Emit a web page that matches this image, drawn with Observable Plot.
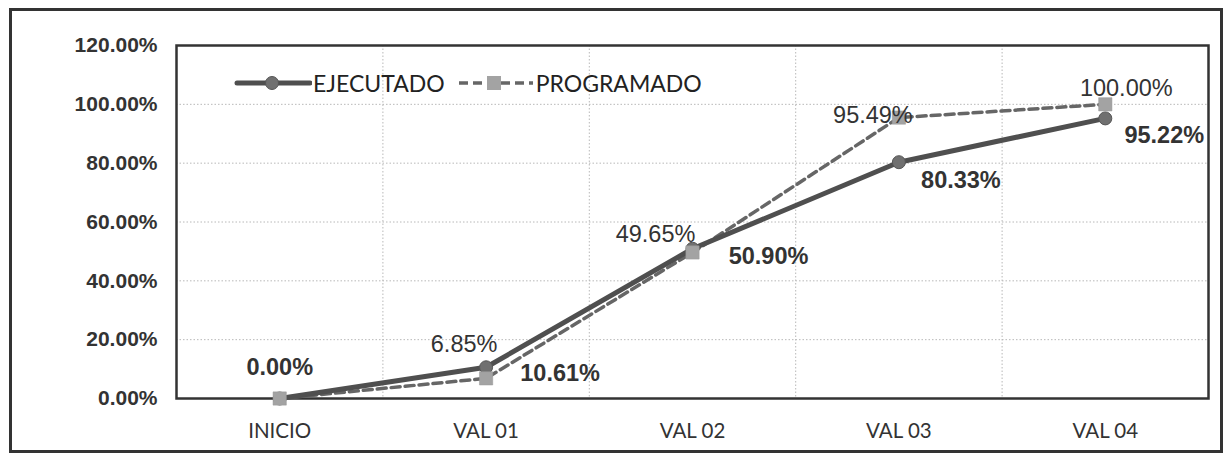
<!DOCTYPE html>
<html>
<head>
<meta charset="utf-8">
<script src="https://cdn.jsdelivr.net/npm/d3@7"></script>
<script src="https://cdn.jsdelivr.net/npm/@observablehq/plot@0.6"></script>
<style>
  html, body { margin: 0; padding: 0; background: #fff; }
  #wrap { position: relative; width: 1229px; height: 454px; overflow: hidden; }
  #border { position: absolute; left: 9px; top: 8px; width: 1208px; height: 439px; border: 3.5px solid #333; pointer-events: none; }
  #legend { position: absolute; left: 234px; top: 69px; display: flex; align-items: center; font-family: Lato, "Open Sans", sans-serif; font-size: 23px; color: #222; }
  #legend .item { display: flex; align-items: center; margin-right: 12px; }
  #legend svg { display: block; margin-right: 1px; }
</style>
</head>
<body>
<div id="wrap">
  <div id="chart"></div>
  <div id="legend"></div>
  <div id="border"></div>
</div>
<script>
// ---- data ----
const categories = ["INICIO", "VAL 01", "VAL 02", "VAL 03", "VAL 04"];
const ejecutado = [0.00, 10.61, 50.90, 80.33, 95.22];
const programado = [0.00, 6.85, 49.65, 95.49, 100.00];
const yTicks = [0, 20, 40, 60, 80, 100, 120];
const seriesNames = ["EJECUTADO", "PROGRAMADO"];

// ---- label placement (styling) ----
const execOff = [[0, -31], [74, 6], [76, 8], [62, 18], [59, 17]];
const progOff = [null, [-22, -34], [-37, -18], [-26, -2], [21, -16]];

const fmt = v => v.toFixed(2) + "%";
const idx = categories.map((c, i) => i);
const ejec = idx.map(i => ({i, v: ejecutado[i]}));
const prog = idx.map(i => ({i, v: programado[i]}));

const labelMarks = [];
idx.forEach(i => {
  const eo = execOff[i];
  labelMarks.push(Plot.text([ejec[i]], {
    x: "i", y: "v", text: d => fmt(d.v), dx: eo[0], dy: eo[1],
    fontFamily: "Liberation Sans, Arial, sans-serif", fontSize: 23.5, fontWeight: "bold", fill: "#333"
  }));
  const po = progOff[i];
  if (po) {
    labelMarks.push(Plot.text([prog[i]], {
      x: "i", y: "v", text: d => fmt(d.v), dx: po[0], dy: po[1],
      fontFamily: "Liberation Sans, Arial, sans-serif", fontSize: 23.5, fill: "#333"
    }));
  }
});

const chart = Plot.plot({
  width: 1229,
  height: 454,
  marginLeft: 176,
  marginRight: 21,
  marginTop: 45,
  marginBottom: 56,
  style: { background: "transparent", overflow: "visible" },
  x: { domain: [-0.5, categories.length - 0.5], label: null },
  y: { domain: [0, 120], label: null },
  marks: [
    Plot.ruleY(yTicks.filter(t => t > 0 && t < 120), { stroke: "#b8b8b8", strokeWidth: 1, strokeDasharray: "1.5,2" }),
    Plot.ruleX(idx.slice(1), { x: d => d - 0.5, stroke: "#b8b8b8", strokeWidth: 1, strokeDasharray: "1.5,2" }),
    Plot.frame({ stroke: "#333", strokeWidth: 2.5 }),
    Plot.axisY({
      ticks: yTicks, tickFormat: fmt, tickSize: 0, tickPadding: 19, label: null,
      fontFamily: "Liberation Sans, Arial, sans-serif", fontSize: 21, fontWeight: "bold", fill: "#333"
    }),
    Plot.axisX({
      ticks: idx, tickFormat: i => categories[i], tickSize: 0, tickPadding: 25, label: null,
      fontFamily: "Lato, sans-serif", fontSize: 20.5, fill: "#333"
    }),
    Plot.line(prog, { x: "i", y: "v", stroke: "#666", strokeWidth: 3.5, strokeDasharray: "9,5" }),
    Plot.line(ejec, { x: "i", y: "v", stroke: "#4f4f4f", strokeWidth: 5 }),
    Plot.dot(ejec, { x: "i", y: "v", r: 6.5, fill: "#707070", stroke: "#555", strokeWidth: 1 }),
    Plot.dot(prog, { x: "i", y: "v", symbol: "square", r: 7.5, fill: "#a3a3a3", stroke: "#999", strokeWidth: 0.5 }),
    ...labelMarks
  ]
});
document.getElementById("chart").appendChild(chart);

// ---- legend ----
const legend = document.getElementById("legend");
legend.innerHTML =
  `<div class="item"><svg width="78" height="20"><line x1="3" y1="10" x2="76" y2="10" stroke="#4f4f4f" stroke-width="5" stroke-linecap="round"/><circle cx="38" cy="10" r="6.5" fill="#707070" stroke="#555"/></svg><span>${seriesNames[0]}</span></div>` +
  `<div class="item"><svg width="78" height="20"><line x1="2" y1="10" x2="76" y2="10" stroke="#666" stroke-width="3.5" stroke-dasharray="9,5"/><rect x="30" y="3" width="14" height="14" fill="#a3a3a3"/></svg><span>${seriesNames[1]}</span></div>`;
</script>
</body>
</html>
